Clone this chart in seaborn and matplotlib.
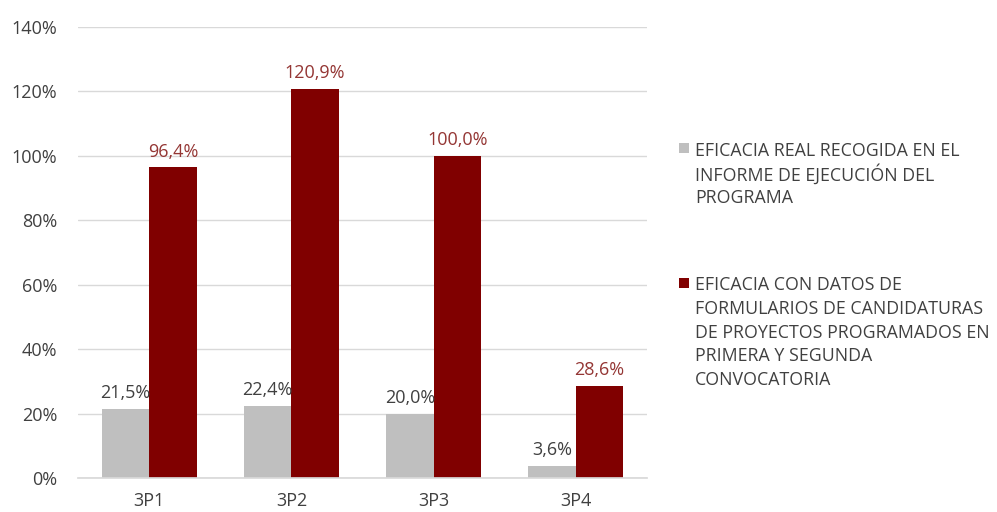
import matplotlib
matplotlib.use("Agg")
import matplotlib.pyplot as plt
from matplotlib.patches import Rectangle
import seaborn as sns
import pandas as pd

categories = ["3P1", "3P2", "3P3", "3P4"]
real_values = [21.5, 22.4, 20.0, 3.6]
form_values = [96.4, 120.9, 100.0, 28.6]
series_lines = [
    ["EFICACIA REAL RECOGIDA EN EL", "INFORME DE EJECUCIÓN DEL", "PROGRAMA"],
    ["EFICACIA CON DATOS DE", "FORMULARIOS DE CANDIDATURAS",
     "DE PROYECTOS PROGRAMADOS EN", "PRIMERA Y SEGUNDA", "CONVOCATORIA"],
]
series_names = [" ".join(l) for l in series_lines]
y_ticks = [0, 20, 40, 60, 80, 100, 120, 140]

colors = ["#BFBFBF", "#800000"]
label_colors = ["#404040", "#943634"]
text_color = "#404040"
FS = 13
LEG_FS = 12.8

df = pd.DataFrame({
    "cat": categories * 2,
    "val": real_values + form_values,
    "serie": [series_names[0]] * 4 + [series_names[1]] * 4,
})

sns.set_theme(style="white")
plt.rcParams["font.family"] = ["Open Sans", "DejaVu Sans"]

W, H = 997, 512
fig = plt.figure(figsize=(W / 100, H / 100), dpi=100)
ax = fig.add_axes([78 / W, 1 - 478 / H, (647 - 78) / W, (478 - 27) / H])

sns.barplot(data=df, x="cat", y="val", hue="serie", palette=colors,
            width=0.667, ax=ax, legend=False, saturation=1, linewidth=0)

for cont, lc in zip(ax.containers, label_colors):
    ax.bar_label(cont, labels=[f"{v:.1f}%".replace(".", ",") for v in cont.datavalues],
                 padding=5, color=lc, fontsize=FS)

ax.set_ylim(0, 140)
ax.set_yticks(y_ticks)
ax.set_yticklabels([f"{t}%" for t in y_ticks])
ax.set_xlim(-0.5, 3.5)
ax.set_xlabel("")
ax.set_ylabel("")
ax.yaxis.grid(True, color="#D9D9D9", linewidth=1)
ax.set_axisbelow(True)
for s in ["top", "right", "left"]:
    ax.spines[s].set_visible(False)
ax.spines["bottom"].set_color("#D9D9D9")
ax.tick_params(axis="y", length=0, pad=15, labelsize=FS, labelcolor=text_color)
ax.tick_params(axis="x", length=0, pad=10, labelsize=FS, labelcolor=text_color)

# legend (manual, Excel style: square aligned with first line)
first_line_y = [148.5, 283]
pitch = 23.8
for lines, col, y0 in zip(series_lines, colors, first_line_y):
    fig.patches.append(Rectangle((679 / W, 1 - (y0 + 4.5) / H), 10 / W, 10 / H,
                                 transform=fig.transFigure, facecolor=col,
                                 edgecolor="none"))
    for i, line in enumerate(lines):
        yc = y0 + i * pitch
        fig.text(695 / W, 1 - yc / H, line, fontsize=LEG_FS, color=text_color,
                 ha="left", va="center_baseline")

fig.savefig("out.png", dpi=100)
